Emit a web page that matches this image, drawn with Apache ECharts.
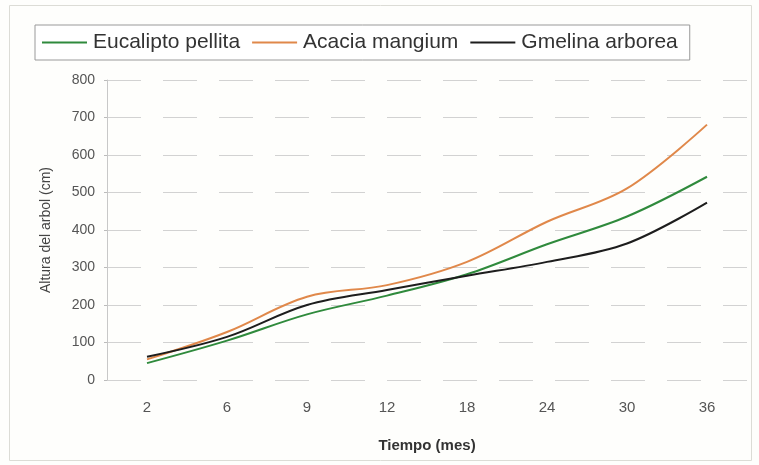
<!DOCTYPE html>
<html>
<head>
<meta charset="utf-8">
<script src="https://cdn.jsdelivr.net/npm/echarts@6/dist/echarts.min.js"></script>
<style>
  html, body { margin: 0; padding: 0; background: #ffffff; }
  #chart { width: 759px; height: 465px; }
</style>
</head>
<body>
<div id="chart"></div>
<script>
// Tree height growth by species (cm) over time (months)
const months = ['2', '6', '9', '12', '18', '24', '30', '36'];
const eucalipto = [45, 105, 175, 225, 282, 362, 436, 542];
const acacia = [55, 128, 222, 253, 315, 422, 511, 681];
const gmelina = [62, 115, 200, 240, 278, 315, 364, 473];

const seriesNames = ['Eucalipto pellita', 'Acacia mangium', 'Gmelina arborea'];
const seriesColors = ['#2f8a3c', '#e0884a', '#1d1d1d'];
const seriesData = [eucalipto, acacia, gmelina];

const chart = echarts.init(document.getElementById('chart'));

chart.setOption({
  backgroundColor: '#fefefc',
  animation: false,
  textStyle: { fontFamily: 'Liberation Sans, Arial, sans-serif' },
  graphic: [
    {
      type: 'rect',
      shape: { x: 9.5, y: 5.5, width: 742, height: 455 },
      style: { fill: 'none', stroke: '#dcdcd6', lineWidth: 1 },
      silent: true,
      z: -1
    }
  ],
  legend: {
    left: 35,
    top: 25,
    padding: [7, 12, 7, 7],
    itemGap: 12,
    itemWidth: 45,
    itemHeight: 14,
    borderColor: '#9a9a9a',
    borderWidth: 1,
    backgroundColor: '#ffffff',
    icon: 'path://M0,6 L45,6 L45,8 L0,8 Z',
    textStyle: { fontSize: 21, color: '#333', padding: [0, 0, 0, 1] },
    data: seriesNames
  },
  grid: { left: 107, right: 12, top: 80, bottom: 85 },
  xAxis: {
    type: 'category',
    data: months,
    boundaryGap: true,
    axisLine: { show: false },
    axisTick: { show: false },
    axisLabel: { fontSize: 15, color: '#555', margin: 20 },
    name: 'Tiempo (mes)',
    nameLocation: 'middle',
    nameGap: 58,
    nameTextStyle: { fontSize: 15, fontWeight: 'bold', color: '#333' }
  },
  yAxis: {
    type: 'value',
    min: 0,
    max: 800,
    interval: 100,
    axisLine: { show: true, lineStyle: { color: '#c8c8c8', width: 1 } },
    axisTick: { show: true, length: 3, lineStyle: { color: '#bbbbbb' } },
    axisLabel: { fontSize: 14, color: '#555', margin: 12 },
    splitLine: { show: true, lineStyle: { color: '#d2d2d2', width: 1, type: [34, 22] } },
    name: 'Altura del arbol (cm)',
    nameLocation: 'middle',
    nameGap: 54,
    nameTextStyle: { fontSize: 14, color: '#444' }
  },
  series: seriesNames.map((name, i) => ({
    name: name,
    type: 'line',
    data: seriesData[i],
    smooth: 0.35,
    symbol: 'none',
    color: seriesColors[i],
    lineStyle: { width: 2, color: seriesColors[i] }
  }))
});
</script>
</body>
</html>
